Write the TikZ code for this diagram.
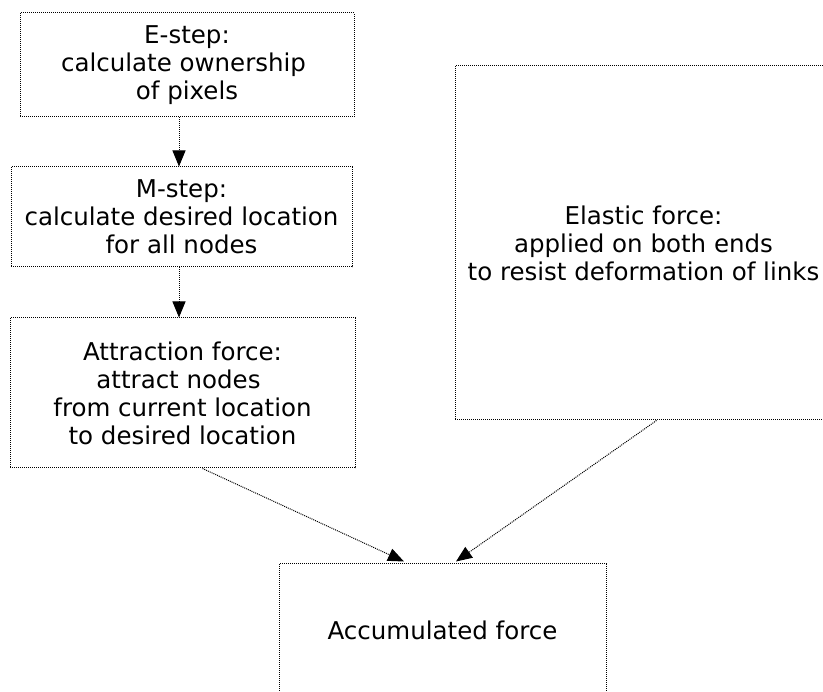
\documentclass[tikz,border=0pt]{standalone}
\usepackage{fontspec}
\setmainfont{DejaVu Sans}
\usetikzlibrary{arrows.meta}

\tikzset{
  stage/.style={draw=black, densely dotted, line width=1pt, inner sep=0pt,
    align=center, font=\fontsize{24.5}{28}\selectfont},
  flow/.style={draw=black, densely dotted, line width=1pt,
    -{Triangle[length=16pt, width=13pt, fill=black]}}
}

\begin{document}
\begin{tikzpicture}[x=1pt, y=-1pt]
  \useasboundingbox (0,0) rectangle (823,692);
  \clip (0,0) rectangle (823,692);

  % computation stages
  \node[stage, minimum width=334pt, minimum height=104pt] (estep) at (187,65)
    {E-step:\\ calculate ownership\kern7pt\\ of pixels};
  \node[stage, minimum width=341pt, minimum height=100pt] (mstep) at (181.5,217)
    {M-step:\\ calculate desired location\\ for all nodes};
  \node[stage, minimum width=345pt, minimum height=150pt] (attract) at (182.5,393)
    {Attraction force:\\ attract nodes\kern8pt\\ from current location\\ to desired location};
  \node[stage, minimum width=377pt, minimum height=354pt] (elastic) at (643.5,243)
    {Elastic force:\\ applied on both ends\\ to resist deformation of links};
  \node[stage, minimum width=327pt, minimum height=132pt] (accum) at (442.5,630)
    {Accumulated force};

  % vertical axis of the left column
  \coordinate (axis) at (179,0);

  % connectors
  \draw[flow] (estep.south -| axis) -- (mstep.north -| axis);
  \draw[flow] (mstep.south -| axis) -- (attract.north -| axis);
  \draw[flow] ([xshift=193pt]attract.south west) -- ([xshift=-38.5pt, yshift=2pt]accum.north);
  \draw[flow] ([xshift=202pt]elastic.south west) -- ([xshift=13.5pt, yshift=2pt]accum.north);
\end{tikzpicture}
\end{document}
